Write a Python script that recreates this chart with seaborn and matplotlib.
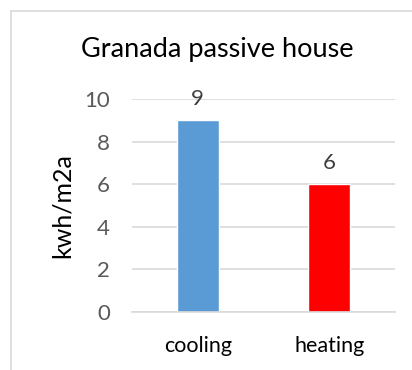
import matplotlib
matplotlib.use("Agg")
import matplotlib.pyplot as plt
from matplotlib.lines import Line2D
import seaborn as sns
import pandas as pd

categories = ["cooling", "heating"]
values = [9, 6]
bar_colors = ["#5b9bd5", "#ff0000"]
yticks = [0, 2, 4, 6, 8, 10]
title = "Granada passive house"
ylabel = "kwh/m2a"

sns.set_style("white")
plt.rcParams["font.family"] = ["Lato", "DejaVu Sans"]

W, H = 412, 370
fig = plt.figure(figsize=(W / 100, H / 100), dpi=100)
ax = fig.add_axes([132 / W, (H - 312) / H, 263 / W, 213 / H])

df = pd.DataFrame({"category": categories, "value": values})
sns.barplot(data=df, x="category", y="value", hue="category",
            palette=bar_colors, width=0.32, ax=ax, legend=False,
            saturation=1)

ax.set_ylim(0, 10)
ax.set_xlim(-0.5, 1.5)
ax.set_yticks(yticks)
ax.yaxis.grid(True, color="#d9d9d9", linewidth=1.2)
ax.set_axisbelow(True)
for s in ["top", "right", "left"]:
    ax.spines[s].set_visible(False)
ax.spines["bottom"].set_color("#d9d9d9")
ax.spines["bottom"].set_linewidth(1.2)
ax.tick_params(axis="both", length=0)
ax.tick_params(axis="y", labelsize=16, labelcolor="#595959", pad=16)
ax.tick_params(axis="x", labelsize=15.5, labelcolor="#000000", pad=17)
ax.set_xlabel("")
ax.set_ylabel(ylabel, fontsize=18, color="#000000", va="center")
ax.yaxis.set_label_coords((62 - 132) / 263, 0.5)

for container in ax.containers:
    ax.bar_label(container, labels=[f"{v:g}" for v in container.datavalues],
                 padding=8, fontsize=16, color="#404040")

fig.text(217 / W, 1 - 50 / H, title, ha="center", va="center",
         fontsize=19.5, color="#000000")

# outer chart frame (top and left edges)
fig.add_artist(Line2D([11 / W, 1], [1 - 11 / H, 1 - 11 / H],
                      color="#d9d9d9", linewidth=1.2, transform=fig.transFigure))
fig.add_artist(Line2D([11 / W, 11 / W], [0, 1 - 11 / H],
                      color="#d9d9d9", linewidth=1.2, transform=fig.transFigure))

fig.savefig("out.png", dpi=100, facecolor="white")
